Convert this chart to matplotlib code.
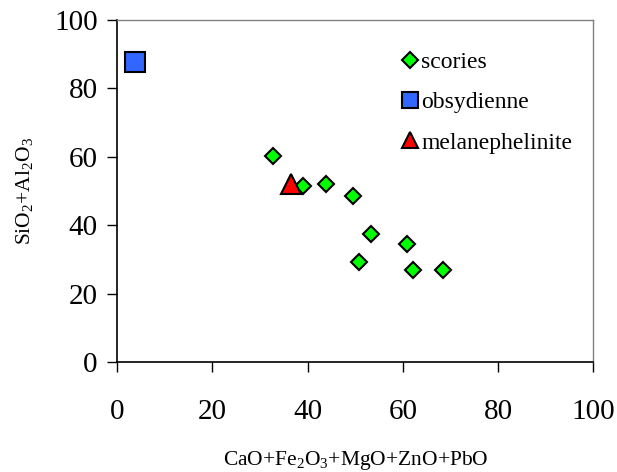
import matplotlib
matplotlib.use("Agg")
import matplotlib.pyplot as plt

plt.rcParams['font.family'] = ['Liberation Serif', 'DejaVu Serif']
plt.rcParams['mathtext.fontset'] = 'custom'
plt.rcParams['mathtext.rm'] = 'Liberation Serif'
plt.rcParams['mathtext.default'] = 'regular'

# scories samples
scories_x = [32.8, 39.1, 43.8, 49.6, 53.4, 60.9, 50.8, 62.2, 68.5]
scories_y = [60.2, 51.5, 52.1, 48.5, 37.3, 34.5, 29.2, 26.9, 26.9]
# obsydienne
obs_x = [3.7]
obs_y = [87.6]
# melanephelinite
mel_x = [36.5]
mel_y = [52.0]

xticks = [0, 20, 40, 60, 80, 100]
yticks = [0, 20, 40, 60, 80, 100]

fig = plt.figure(figsize=(6.17, 4.72), dpi=100)
ax = fig.add_axes([0.190, 0.2331, 0.7716, 0.7246])

ax.plot(scories_x, scories_y, linestyle='none', marker='D', markersize=8,
        markerfacecolor='#00ff00', markeredgecolor='black', markeredgewidth=1.5,
        label='scories', zorder=3)
ax.plot(obs_x, obs_y, linestyle='none', marker='s', markersize=14,
        markerfacecolor='#3366ff', markeredgecolor='black', markeredgewidth=1.5,
        label='obsydienne', zorder=3)
ax.plot(mel_x, mel_y, linestyle='none', marker='^', markersize=14,
        markerfacecolor='#ff0000', markeredgecolor='black', markeredgewidth=1.5,
        label='melanephelinite', zorder=4)

ax.set_xlim(0, 100)
ax.set_ylim(0, 100)
ax.set_xticks(xticks)
ax.set_yticks(yticks)
ax.tick_params(axis='both', direction='out', length=7, width=1, labelsize=21,
               colors='black')
ax.tick_params(axis='x', pad=20)
ax.tick_params(axis='y', pad=7)

for side in ('left', 'bottom'):
    ax.spines[side].set_color('black')
    ax.spines[side].set_linewidth(1.2)
for side in ('top', 'right'):
    ax.spines[side].set_color('#808080')
    ax.spines[side].set_linewidth(1.0)

ax.set_xlabel('CaO+Fe$_2$O$_3$+MgO+ZnO+PbO', fontsize=15.5, labelpad=17)
ax.set_ylabel('SiO$_2$+Al$_2$O$_3$', fontsize=15.5, labelpad=14)

leg = ax.legend(loc='upper left', bbox_to_anchor=(0.577, 0.936), frameon=False,
                fontsize=17, handlelength=0.7, handletextpad=0.15,
                labelspacing=0.8, borderaxespad=0)
for h, ms in zip(leg.legend_handles, [8.5, 12, 12]):
    h.set_markersize(ms)

fig.savefig('out.png', dpi=100)
